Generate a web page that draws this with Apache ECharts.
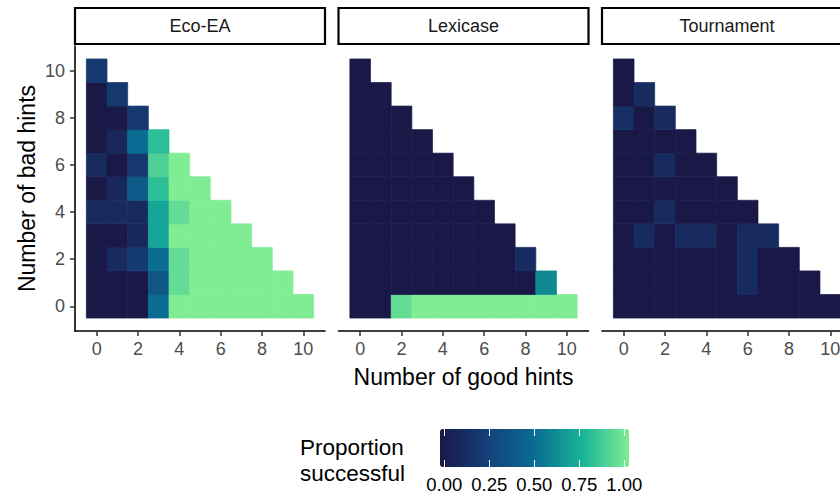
<!DOCTYPE html>
<html>
<head>
<meta charset="utf-8">
<script src="https://cdn.jsdelivr.net/npm/echarts@6/dist/echarts.min.js"></script>
<style>
  html, body { margin: 0; padding: 0; background: #fff; }
  #chart { width: 840px; height: 496px; }
</style>
</head>
<body>
<div id="chart"></div>
<script>
const panels = ['Eco-EA', 'Lexicase', 'Tournament']
const hintTicks = [0, 2, 4, 6, 8, 10]
const legendTicks = [0, 0.25, 0.5, 0.75, 1]
const scaleColors = ['#1a1847', '#144079', '#0a6c92', '#17b397', '#80ec94']

// one row per number of bad hints (0..10), one value per number of good hints
const ecoEA = [
  [0, 0, 0, 0.5, 1, 1, 1, 1, 1, 1, 1],
  [0, 0, 0, 0.37, 0.93, 1, 1, 1, 1, 1],
  [0, 0.12, 0.22, 0.5, 0.93, 1, 1, 1, 1],
  [0, 0, 0.1, 0.7, 1, 1, 1, 1],
  [0.12, 0.12, 0.12, 0.7, 0.93, 1, 1],
  [0, 0.1, 0.4, 0.8, 1, 1],
  [0.12, 0, 0.2, 0.88, 1],
  [0, 0.1, 0.5, 0.8],
  [0, 0, 0.2],
  [0, 0.2],
  [0.2],
]
const lexicase = [
  [0, 0, 0.93, 1, 1, 1, 1, 1, 1, 1, 1],
  [0, 0, 0, 0, 0, 0, 0, 0, 0, 0.6],
  [0, 0, 0, 0, 0, 0, 0, 0, 0.12],
  [0, 0, 0, 0, 0, 0, 0, 0],
  [0, 0, 0, 0, 0, 0, 0],
  [0, 0, 0, 0, 0, 0],
  [0, 0, 0, 0, 0],
  [0, 0, 0, 0],
  [0, 0, 0],
  [0, 0],
  [0],
]
const tournament = [
  [0, 0, 0, 0, 0, 0, 0, 0, 0, 0, 0],
  [0, 0, 0, 0, 0, 0, 0.12, 0, 0, 0],
  [0, 0, 0, 0, 0, 0, 0.12, 0, 0],
  [0, 0.12, 0, 0.12, 0.12, 0, 0.12, 0.12],
  [0, 0, 0.12, 0, 0, 0, 0],
  [0, 0, 0, 0, 0, 0],
  [0, 0, 0.12, 0, 0],
  [0, 0, 0, 0],
  [0.15, 0, 0.12],
  [0, 0.12],
  [0],
]

const font = "'Liberation Sans', Arial, sans-serif"
const panelLeft = [75, 338.5, 602]
const panelTop = 46
const panelWidth = 250
const panelHeight = 285

const toTiles = (rows) => {
  const out = []
  rows.forEach((row, bad) => {
    row.forEach((v, good) => {
      out.push([good, bad, v])
    })
  })
  return out
}

const renderTile = (params, api) => {
  const p0 = api.coord([api.value(0) - 0.5, api.value(1) + 0.5])
  const p1 = api.coord([api.value(0) + 0.5, api.value(1) - 0.5])
  const c = api.visual('color')
  return {
    type: 'rect',
    shape: { x: p0[0], y: p0[1], width: p1[0] - p0[0], height: p1[1] - p0[1] },
    style: { fill: c, stroke: c, lineWidth: 0.7 },
  }
}

const chart = echarts.init(document.getElementById('chart'), null, { renderer: 'svg' })

const grids = panelLeft.map((l) => ({
  left: l, top: panelTop, width: panelWidth, height: panelHeight, outerBoundsMode: 'none',
}))
grids.push({ left: 440, top: 429, width: 189, height: 38, outerBoundsMode: 'none' })

const xAxes = panelLeft.map((l, i) => ({
  type: 'value',
  gridIndex: i,
  min: -1.05,
  max: 11.05,
  name: i === 1 ? 'Number of good hints' : '',
  nameLocation: 'middle',
  nameGap: 34,
  nameTextStyle: { fontSize: 23, color: '#000', fontFamily: font },
  axisLine: { show: true, onZero: false, lineStyle: { color: '#000', width: 1.6 } },
  axisTick: { show: true, customValues: hintTicks, length: 5, lineStyle: { color: '#333', width: 1.5 } },
  axisLabel: { customValues: hintTicks, color: '#4d4d4d', fontSize: 18, fontFamily: font, margin: 9 },
  splitLine: { show: false },
}))
xAxes.push({
  type: 'value', gridIndex: 3, min: -0.0239, max: 1.0261, z: 10,
  axisLine: { show: false },
  axisTick: { show: true, inside: true, customValues: legendTicks, length: 7, lineStyle: { color: '#fff', width: 1 } },
  axisLabel: { customValues: legendTicks, color: '#000', fontSize: 18.5, fontFamily: font, margin: 8,
    formatter: (v) => v.toFixed(2) },
  splitLine: { show: false },
})
xAxes.push({
  type: 'value', gridIndex: 3, position: 'top', min: -0.0239, max: 1.0261, z: 10,
  axisLine: { show: false },
  axisTick: { show: true, inside: true, customValues: legendTicks, length: 7, lineStyle: { color: '#fff', width: 1 } },
  axisLabel: { show: false },
  splitLine: { show: false },
})

const yAxes = panelLeft.map((l, i) => ({
  type: 'value',
  gridIndex: i,
  min: -1.05,
  max: 11.05,
  show: i === 0,
  name: i === 0 ? 'Number of bad hints' : '',
  nameLocation: 'middle',
  nameGap: 37,
  nameRotate: 90,
  nameTextStyle: { fontSize: 23, color: '#000', fontFamily: font },
  axisLine: { show: true, onZero: false, lineStyle: { color: '#000', width: 1.6 } },
  axisTick: { show: true, customValues: hintTicks, length: 5, lineStyle: { color: '#333', width: 1.5 } },
  axisLabel: { customValues: hintTicks, color: '#4d4d4d', fontSize: 18, fontFamily: font, margin: 10 },
  splitLine: { show: false },
}))
yAxes.push({ type: 'value', gridIndex: 3, show: false, min: 0, max: 1 })

const series = [ecoEA, lexicase, tournament].map((rows, i) => ({
  type: 'custom',
  name: panels[i],
  xAxisIndex: i,
  yAxisIndex: i,
  renderItem: renderTile,
  encode: { x: 0, y: 1 },
  data: toTiles(rows),
  clip: false,
}))

const strips = []
panelLeft.forEach((l, i) => {
  strips.push({
    type: 'rect',
    shape: { x: l, y: 8, width: panelWidth, height: 36 },
    style: { fill: '#fff', stroke: '#000', lineWidth: 2.2 },
  })
  strips.push({
    type: 'text',
    x: l + panelWidth / 2,
    y: 26,
    style: { text: panels[i], fill: '#1a1a1a', fontSize: 18, fontFamily: font, align: 'center', verticalAlign: 'middle' },
  })
})

const option = {
  animation: false,
  backgroundColor: '#fff',
  title: {
    text: 'Proportion\nsuccessful',
    left: 300,
    top: 434,
    padding: 0,
    textStyle: { fontSize: 22.5, fontWeight: 'normal', color: '#000', fontFamily: font, lineHeight: 26 },
  },
  grid: grids,
  xAxis: xAxes,
  yAxis: yAxes,
  visualMap: {
    type: 'continuous',
    min: 0,
    max: 1,
    dimension: 2,
    seriesIndex: [0, 1, 2],
    orient: 'horizontal',
    left: 440,
    top: 429,
    itemWidth: 38,
    itemHeight: 189,
    padding: 0,
    calculable: false,
    hoverLink: false,
    inRange: { color: scaleColors },
  },
  graphic: strips,
  series: series,
}

chart.setOption(option)
</script>
</body>
</html>
